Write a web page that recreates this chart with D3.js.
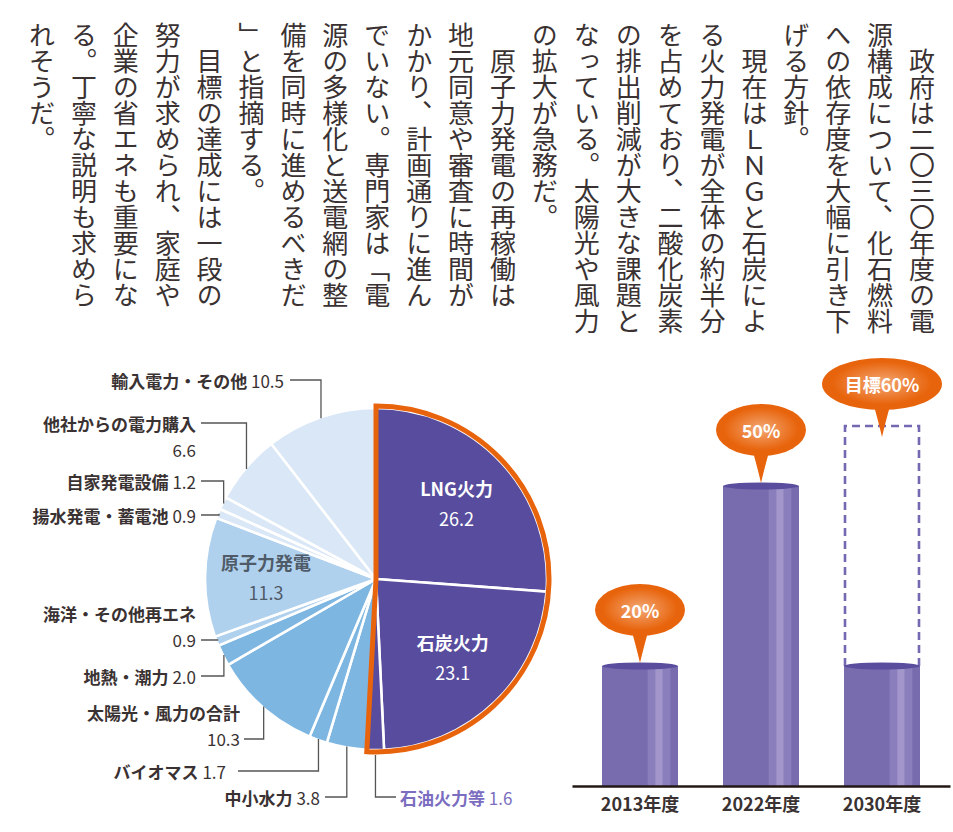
<!DOCTYPE html>
<html><head><meta charset="utf-8">
<script src="https://cdn.jsdelivr.net/npm/d3@7"></script>
<style>
body{margin:0;background:#fff}
svg{display:block;font-family:"Noto Sans CJK JP","Noto Sans",sans-serif}
</style>
</head><body>
<svg id="c" width="953" height="832"></svg>
<script>
// ---------- DATA ----------
// Article body, vertical columns in reading order (right to left). "　" = paragraph indent.
const articleColumns = [
  "　政府は二〇三〇年度の電",
  "源構成について、化石燃料",
  "への依存度を大幅に引き下",
  "げる方針。",
  "　現在はＬＮＧと石炭によ",
  "る火力発電が全体の約半分",
  "を占めており、二酸化炭素",
  "の排出削減が大きな課題と",
  "なっている。太陽光や風力",
  "の拡大が急務だ。",
  "　原子力発電の再稼働は",
  "地元同意や審査に時間が",
  "かかり、計画通りに進ん",
  "でいない。専門家は「電",
  "源の多様化と送電網の整",
  "備を同時に進めるべきだ",
  "」と指摘する。",
  "　目標の達成には一段の",
  "努力が求められ、家庭や",
  "企業の省エネも重要にな",
  "る。丁寧な説明も求めら",
  "れそうだ。"
];

// Pie: share of generation (%), clockwise from 12 o'clock
const sliceNames  = ["LNG火力","石炭火力","石油火力等","中小水力","バイオマス","太陽光・風力の合計","地熱・潮力","海洋・その他再エネ","原子力発電","揚水発電・蓄電池","自家発電設備","他社からの電力購入","輸入電力・その他"];
const sliceValues = [26.2, 23.1, 1.6, 3.8, 1.7, 10.3, 2.0, 0.9, 11.3, 0.9, 1.2, 6.6, 10.5];
const sliceGroups = ["fossil","fossil","fossil","renew","renew","renew","renew","clean","clean","other","other","other","other"];

// Bars
const barCategories = ["2013年度","2022年度","2030年度"];
const barValues     = [20, 50, 20];
const barTargets    = [null, null, 60];
const bubbleTexts   = ["20%","50%","目標60%"];

// ---------- LAYOUT / STYLE ----------
const svg = d3.select("#c");
const W = 953, H = 832;
const textColor = "#3a3232";
const groupColor = d3.scaleOrdinal()
  .domain(["fossil","renew","clean","other"])
  .range(["#574c9d","#7eb6e2","#b0d1ee","#d9e7f6"]);
const orange = "#e8640c";
const purpleLabel = "#7b6dbf";

// ----- Article text (vertical) -----
const colX = d3.scalePoint().domain(d3.range(articleColumns.length)).range([922, 42]);
svg.append("g").selectAll("text").data(articleColumns).join("text")
  .attr("x", (d,i)=>colX(i))
  .attr("y", 22)
  .style("writing-mode","vertical-rl")
  .attr("font-size", 26)
  .attr("fill", textColor)
  .text(d=>d);

// ----- Pie -----
const cx = 376, cy = 579, R = 171;
const pieGen = d3.pie().sort(null).value(d=>d);
const arcsData = pieGen(sliceValues);
const arc = d3.arc().innerRadius(0).outerRadius(R);
const gPie = svg.append("g").attr("transform",`translate(${cx},${cy})`);
gPie.selectAll("path.slice").data(arcsData).join("path")
  .attr("class","slice")
  .attr("d", arc)
  .attr("fill",(d,i)=>groupColor(sliceGroups[i]))
  .attr("stroke","#fff").attr("stroke-width",2.6).attr("stroke-linejoin","round");

// highlighted group outline
const fossilIdx = sliceGroups.map((g,i)=>g==="fossil"?i:-1).filter(i=>i>=0);
const outline = {
  startAngle: arcsData[fossilIdx[0]].startAngle,
  endAngle: arcsData[fossilIdx[fossilIdx.length-1]].endAngle,
  innerRadius: 0, outerRadius: R + 2
};
gPie.append("path").attr("d", d3.arc()(outline))
  .attr("fill","none").attr("stroke",orange).attr("stroke-width",5).attr("stroke-linejoin","miter");

// inside labels
const innerArc = d3.arc().innerRadius(110).outerRadius(110);
const insideIdx = [0,1,8];
insideIdx.forEach(i=>{
  const [px,py] = innerArc.centroid(arcsData[i]);
  const t = gPie.append("text").attr("text-anchor","middle")
    .attr("fill", i===8 ? "#4f5b68" : "#ffffff")
    .attr("font-weight",700).attr("font-size",18);
  t.append("tspan").attr("x",px).attr("y",py-8).text(sliceNames[i]);
  t.append("tspan").attr("x",px).attr("y",py+22).attr("font-weight",400).text(sliceValues[i].toFixed(1));
});

// outside labels with elbow leaders (layout only)
const labelLayout = [
  {i:12, y:380, tx:284, lx:290, twoLine:false},
  {i:11, y:423, tx:196, lx:201, twoLine:true},
  {i:10, y:481, tx:196, lx:201, twoLine:false},
  {i:9,  y:515, tx:196, lx:201, twoLine:false},
  {i:7,  y:613, tx:196, lx:201, twoLine:true, leaderOnSecond:true},
  {i:6,  y:676, tx:196, lx:201, twoLine:false},
  {i:5,  y:712, tx:240, lx:244, twoLine:true, leaderOnSecond:true},
  {i:4,  y:771, tx:226, lx:238, twoLine:false},
  {i:3,  y:797, tx:320, lx:325, twoLine:false},
  {i:2,  y:797, tx:400, lx:396, twoLine:false, right:true}
];
const edgeArc = d3.arc().innerRadius(R-1).outerRadius(R-1);
const gLab = svg.append("g");
labelLayout.forEach(L=>{
  const a = arcsData[L.i];
  const [ex,ey] = edgeArc.centroid(a);
  const px = cx+ex, py = cy+ey + (L.right ? 6 : 0);
  const lineY = L.leaderOnSecond ? L.y + 27 : L.y;
  const col = L.right ? purpleLabel : textColor;
  // leader
  gLab.append("path")
    .attr("d", d3.line()([[L.lx, lineY],[px, lineY],[px, py]]))
    .attr("fill","none").attr("stroke","#555").attr("stroke-width",1.3);
  const anchor = L.right ? "start" : "end";
  const name = sliceNames[L.i], val = sliceValues[L.i].toFixed(1);
  if (!L.twoLine) {
    const t = gLab.append("text").attr("x",L.tx).attr("y",L.y)
      .attr("dominant-baseline","central").attr("text-anchor",anchor)
      .attr("font-size",17).attr("fill",col);
    t.append("tspan").attr("font-weight",700).text(name);
    t.append("tspan").attr("font-weight",400).text(" " + val);
  } else {
    gLab.append("text").attr("x",L.tx).attr("y",L.y)
      .attr("dominant-baseline","central").attr("text-anchor",anchor)
      .attr("font-size",17).attr("font-weight",700).attr("fill",col).text(name);
    gLab.append("text").attr("x",L.tx).attr("y",L.y+26)
      .attr("dominant-baseline","central").attr("text-anchor",anchor)
      .attr("font-size",17).attr("font-weight",400).attr("fill",col).text(val);
  }
});

// ----- Bars -----
const x = d3.scaleBand().domain(barCategories).range([572,950]).paddingInner(0.372).paddingOuter(0.248);
const y = d3.scaleLinear().domain([0,60]).range([786,426]);
const gBar = svg.append("g");
const defs = svg.append("defs");
const rg = defs.append("radialGradient").attr("id","bub").attr("cx","50%").attr("cy","48%").attr("r","55%");
rg.append("stop").attr("offset","0%").attr("stop-color","#f3a875");
rg.append("stop").attr("offset","75%").attr("stop-color",orange);
rg.append("stop").attr("offset","100%").attr("stop-color",orange);

barCategories.forEach((c,i)=>{
  const x0 = x(c), bw = x.bandwidth(), v = barValues[i];
  const top = y(v), base = y(0);
  // target dashed frame
  if (barTargets[i] != null) {
    const tt = y(barTargets[i]);
    gBar.append("path")
      .attr("d", d3.line()([[x0+1, top],[x0+1, tt],[x0+bw-1, tt],[x0+bw-1, top]]))
      .attr("fill","none").attr("stroke","#7468b3").attr("stroke-width",2.6)
      .attr("stroke-dasharray","8,5");
  }
  gBar.append("rect").attr("x",x0).attr("y",top).attr("width",bw).attr("height",base-top).attr("fill","#786bae");
  const stripes = [[0.6,0.7,"#8b7ebd"],[0.7,0.8,"#a296ca"],[0.8,0.9,"#8b7ebd"]];
  stripes.forEach(s=>{
    gBar.append("rect").attr("x",x0+bw*s[0]).attr("y",top).attr("width",bw*(s[1]-s[0])).attr("height",base-top).attr("fill",s[2]);
  });
  gBar.append("ellipse").attr("cx",x0+bw/2).attr("cy",top).attr("rx",bw/2).attr("ry",3.5).attr("fill","#5a4d9d");

  // bubble
  const refTop = barTargets[i] != null ? y(barTargets[i]) + 12 : top - 2;
  const bx = x0 + bw/2, tip = refTop - 1;
  const by = tip - 53;
  const rx = barTargets[i] != null ? 60 : 45, ry = 26;
  gBar.append("path")
    .attr("d", `M${bx-8},${by+ry-4} Q${bx-3},${by+ry+14} ${bx},${tip} Q${bx+3},${by+ry+14} ${bx+8},${by+ry-4} Z`)
    .attr("fill", orange);
  gBar.append("ellipse").attr("cx",bx).attr("cy",by).attr("rx",rx).attr("ry",ry).attr("fill","url(#bub)");
  gBar.append("text").attr("x",bx).attr("y",by).attr("text-anchor","middle").attr("dominant-baseline","central")
    .attr("fill","#fff").attr("font-weight",700).attr("font-size",18).text(bubbleTexts[i]);
});

const axis = svg.append("g").attr("transform",`translate(0,${y(0)})`)
  .call(d3.axisBottom(x).tickSize(0).tickSizeOuter(0).tickPadding(12));
axis.select(".domain").attr("stroke","#231815").attr("stroke-width",2.5);
axis.selectAll("text").attr("font-size",18).attr("font-weight",700).attr("fill",textColor)
  .attr("font-family",'"Noto Sans CJK JP",sans-serif');
</script>
</body></html>
